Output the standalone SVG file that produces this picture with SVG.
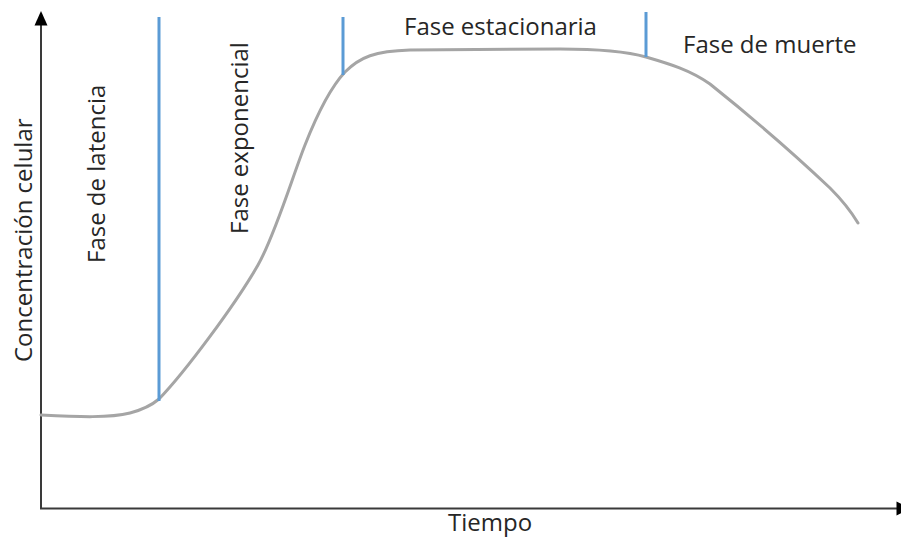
<svg xmlns="http://www.w3.org/2000/svg" width="901" height="537" viewBox="0 0 901 537">
<style>
  .lbl { font-family: "Open Sans", "Noto Sans", "Liberation Sans", sans-serif; font-size: 24px; fill: #262626; }
  .axis { stroke: #3a3a3a; stroke-width: 2; fill: none; }
  .head { fill: #000; }
  .phase { stroke: #5B9BD5; stroke-width: 3; }
  .curve { stroke: #A5A5A5; stroke-width: 3; fill: none; stroke-linecap: round; }
</style>
<rect width="901" height="537" fill="#fff"/>
<g id="axes">
  <line class="axis" x1="41" y1="509" x2="41" y2="22"/>
  <polygon class="head" points="41,11 34.5,25.5 47.5,25.5"/>
  <line class="axis" x1="40" y1="508.5" x2="899" y2="508.5"/>
  <polygon class="head" points="911,508.5 896.5,501.5 896.5,515.5"/>
</g>
<g id="curve">
  <path class="curve" d="M41,415 C80,417 110,418 130,413 C145,409 152,405 159,399 C185,372 235,305 258,265 C275,235 292,178 305,145 C318,112 330,88 345,72 C360,57 375,51 410,50 L560,49 C600,49 625,51 646,57 C670,64 690,70 710,84 C740,108 790,150 830,188 C845,203 852,213 858,223"/>
</g>
<g id="phase-lines">
  <line class="phase" x1="159" y1="17" x2="159" y2="401"/>
  <line class="phase" x1="343" y1="17" x2="343" y2="75"/>
  <line class="phase" x1="646" y1="12" x2="646" y2="57"/>
</g>
<g id="labels">
  <text class="lbl" transform="translate(32,362) rotate(-90)">Concentración celular</text>
  <text class="lbl" transform="translate(105,263) rotate(-90)">Fase de latencia</text>
  <text class="lbl" transform="translate(248,234) rotate(-90)">Fase exponencial</text>
  <text class="lbl" x="404" y="35">Fase estacionaria</text>
  <text class="lbl" x="683" y="53">Fase de muerte</text>
  <text class="lbl" x="448" y="531">Tiempo</text>
</g>
</svg>
